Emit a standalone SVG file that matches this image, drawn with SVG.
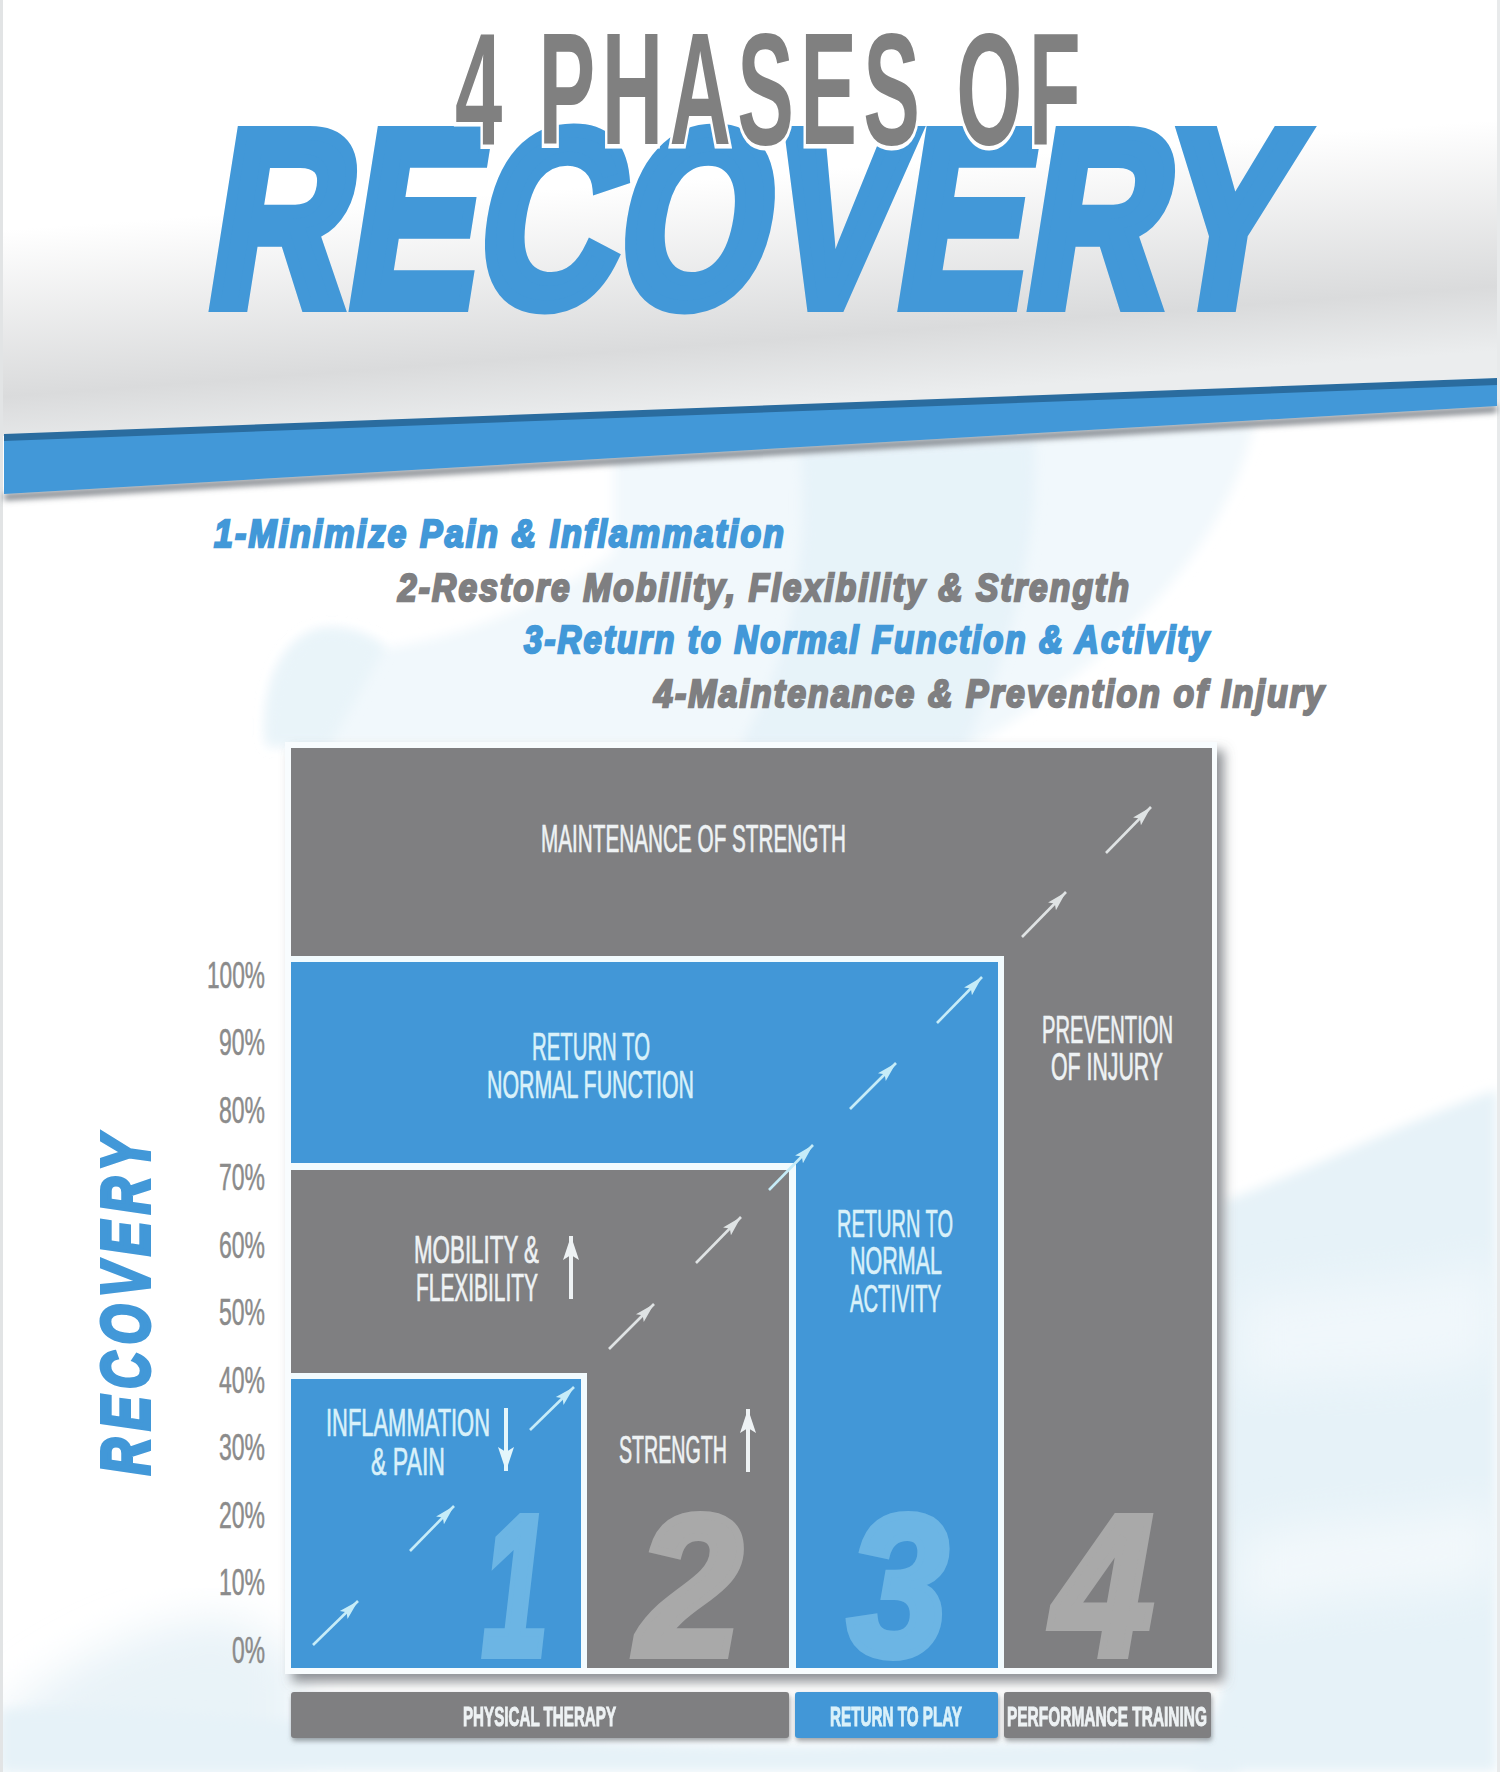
<svg xmlns="http://www.w3.org/2000/svg" width="1500" height="1772" viewBox="0 0 1500 1772">
<style>
text{font-family:"Liberation Sans",Arial,sans-serif}
.lbl{font-size:38px;stroke-width:.7px}
.w{fill:#eef2f4;stroke:#eef2f4}
.c{fill:#d9f1fa;stroke:#d9f1fa}
.bar{font-size:28px;font-weight:bold}
.pct{font-size:36px;fill:#8b8b8b;stroke:#8b8b8b;stroke-width:.5px}
.sub{font-size:39px;font-weight:bold;font-style:italic;stroke-width:2.4px;letter-spacing:2.5px}
.blue{fill:#4298d8;stroke:#4298d8}
.grey{fill:#7f7f81;stroke:#7f7f81}
.num{font-size:200px;font-weight:bold;font-style:italic;stroke-width:8px}
.a{stroke-width:2.6;fill:none}
.ag{stroke:#dfe3e4;marker-end:url(#hg)}
.ab{stroke:#c6ecf8;marker-end:url(#hb)}
.vg{stroke:#eef2f4;stroke-width:4;fill:none;marker-end:url(#vg)}
.vb{stroke:#e4f6fb;stroke-width:4;fill:none;marker-end:url(#vb)}
.pg{fill:#7f7f81}
.pb{fill:#4297d7}
.ln{fill:#f2fbfe}
</style>
<defs>
<marker id="hg" markerUnits="userSpaceOnUse" markerWidth="22" markerHeight="16" refX="20" refY="8" orient="auto"><path d="M0,2.5 L20,8 L0,13.5 L4,8 Z" fill="#dfe3e4"/></marker>
<marker id="hb" markerUnits="userSpaceOnUse" markerWidth="22" markerHeight="16" refX="20" refY="8" orient="auto"><path d="M0,2.5 L20,8 L0,13.5 L4,8 Z" fill="#c6ecf8"/></marker>
<marker id="vg" markerUnits="userSpaceOnUse" markerWidth="26" markerHeight="20" refX="24" refY="10" orient="auto"><path d="M0,2 L24,10 L0,18 L5,10 Z" fill="#eef2f4"/></marker>
<marker id="vb" markerUnits="userSpaceOnUse" markerWidth="26" markerHeight="20" refX="24" refY="10" orient="auto"><path d="M0,2 L24,10 L0,18 L5,10 Z" fill="#e4f6fb"/></marker>
<linearGradient id="sky" gradientUnits="userSpaceOnUse" x1="750" y1="175" x2="767" y2="405">
<stop offset="0" stop-color="#ffffff"/><stop offset=".72" stop-color="#dadbdc"/><stop offset="1" stop-color="#ebedee"/>
</linearGradient>
<filter id="sh" x="-5%" y="-5%" width="112%" height="112%"><feDropShadow dx="7" dy="8" stdDeviation="6" flood-color="#5f6468" flood-opacity=".7"/></filter>
<filter id="bs" x="-5%" y="-30%" width="110%" height="170%"><feDropShadow dx="1" dy="3" stdDeviation="2.5" flood-color="#5f6468" flood-opacity=".6"/></filter>
<filter id="bl" x="-20%" y="-20%" width="140%" height="140%"><feGaussianBlur stdDeviation="6"/></filter>
<filter id="bl2" x="-20%" y="-20%" width="140%" height="140%"><feGaussianBlur stdDeviation="22"/></filter>
<filter id="bl3" x="-5%" y="-50%" width="110%" height="200%"><feGaussianBlur stdDeviation="3"/></filter>
</defs>

<g id="background">
<rect width="1500" height="1772" fill="#ffffff"/>
<path d="M614,440 L1255,420 C1230,540 1130,650 975,745 L267,745 C262,690 280,640 320,630 C350,625 375,640 385,648 C440,640 520,620 614,553 Z" fill="#f1f8fc" filter="url(#bl)"/>
<path d="M800,450 L1035,440 C1040,560 1000,680 965,745 L740,745 C790,660 810,560 800,450Z" fill="#e7f3f9" filter="url(#bl)"/>
<path d="M267,745 C262,690 280,640 320,630 C350,625 375,640 385,648 L330,745Z" fill="#e9f4f9" filter="url(#bl)"/>
<path d="M1225,1201 C1310,1170 1420,1115 1497,1090 L1497,1772 L1190,1772 L1225,1680Z" fill="#e6f2f8" filter="url(#bl)"/>
<path d="M1240,1300 C1330,1280 1420,1290 1497,1260 L1497,1360 C1400,1390 1320,1370 1240,1390Z" fill="#f0f7fb" filter="url(#bl2)"/>
<path d="M1240,1540 C1330,1510 1420,1530 1497,1500 L1497,1580 C1400,1600 1320,1590 1240,1620Z" fill="#f2f8fb" filter="url(#bl2)"/>
<path d="M0,1720 C60,1660 170,1610 240,1620 L300,1660 L300,1772 L0,1772Z" fill="#e9f3f8" filter="url(#bl2)"/>
<path d="M0,1772 L0,1710 C200,1700 400,1745 800,1745 L1240,1740 L1240,1772Z" fill="#e6f2f8" filter="url(#bl)"/>
<rect x="0" y="0" width="3" height="1772" fill="#e2e4e5"/>
<rect x="1497" y="0" width="3" height="1772" fill="#e8eaeb"/>
</g>

<g id="banner">
<path d="M3,436 L1497,378 L1497,0 L3,0Z" fill="url(#sky)"/>
<path d="M4,494 L1497,406 L1497,412 L4,500Z" fill="#6f757c" filter="url(#bl3)"/>
<path d="M4,440 L1497,384 L1497,406 L4,494Z" fill="#4298d8"/>
<path d="M4,434 L1497,378 L1497,385 L4,441Z" fill="#2a6c9f"/>
</g>

<g id="title">
<text transform="translate(202,305) skewX(-9)" font-size="250" font-weight="bold" fill="#4298d8" stroke="#4298d8" stroke-width="14" stroke-linejoin="miter" textLength="1080" lengthAdjust="spacingAndGlyphs">RECOVERY</text>
<text x="455" y="144" font-size="160" font-weight="bold" fill="#808080" stroke="#ffffff" stroke-width="9" paint-order="stroke" letter-spacing="12" textLength="632" lengthAdjust="spacingAndGlyphs">4 PHASES OF</text>
</g>

<g id="phase-list">
<text class="sub blue" x="214" y="547" textLength="572" lengthAdjust="spacingAndGlyphs">1-Minimize Pain &amp; Inflammation</text>
<text class="sub grey" x="398" y="601" textLength="733" lengthAdjust="spacingAndGlyphs">2-Restore Mobility, Flexibility &amp; Strength</text>
<text class="sub blue" x="524" y="653" textLength="687" lengthAdjust="spacingAndGlyphs">3-Return to Normal Function &amp; Activity</text>
<text class="sub grey" x="654" y="707" textLength="672" lengthAdjust="spacingAndGlyphs">4-Maintenance &amp; Prevention of Injury</text>
</g>

<g id="axis">
<text x="149" y="1475" transform="rotate(-90 149 1475)" font-size="68" font-weight="bold" font-style="italic" fill="#4298d8" stroke="#4298d8" stroke-width="4" letter-spacing="10" textLength="346" lengthAdjust="spacingAndGlyphs">RECOVERY</text>
<g class="pct" text-anchor="end">
<text x="265" y="988" textLength="58" lengthAdjust="spacingAndGlyphs">100%</text>
<text x="265" y="1055" textLength="46" lengthAdjust="spacingAndGlyphs">90%</text>
<text x="265" y="1123" textLength="46" lengthAdjust="spacingAndGlyphs">80%</text>
<text x="265" y="1190" textLength="46" lengthAdjust="spacingAndGlyphs">70%</text>
<text x="265" y="1258" textLength="46" lengthAdjust="spacingAndGlyphs">60%</text>
<text x="265" y="1325" textLength="46" lengthAdjust="spacingAndGlyphs">50%</text>
<text x="265" y="1393" textLength="46" lengthAdjust="spacingAndGlyphs">40%</text>
<text x="265" y="1460" textLength="46" lengthAdjust="spacingAndGlyphs">30%</text>
<text x="265" y="1528" textLength="46" lengthAdjust="spacingAndGlyphs">20%</text>
<text x="265" y="1595" textLength="46" lengthAdjust="spacingAndGlyphs">10%</text>
<text x="265" y="1663" textLength="33" lengthAdjust="spacingAndGlyphs">0%</text>
</g>
</g>

<g id="phase-4">
<rect x="285" y="742" width="932" height="932" fill="#f8fcfe" filter="url(#sh)"/>
<rect class="pg" x="291" y="748" width="921" height="920"/>
<text class="lbl w" x="541" y="852" textLength="305" lengthAdjust="spacingAndGlyphs">MAINTENANCE OF STRENGTH</text>
<text class="lbl w" x="1042" y="1043" textLength="131" lengthAdjust="spacingAndGlyphs">PREVENTION</text>
<text class="lbl w" x="1051" y="1080" textLength="112" lengthAdjust="spacingAndGlyphs">OF INJURY</text>
<text class="num" x="1053" y="1655" fill="#a9a9a9" stroke="#a9a9a9" textLength="100" lengthAdjust="spacingAndGlyphs">4</text>
</g>

<g id="phase-3">
<rect class="ln" x="291" y="956" width="713" height="712"/>
<rect class="pb" x="291" y="962" width="707" height="706"/>
<text class="lbl c" x="532" y="1060" textLength="118" lengthAdjust="spacingAndGlyphs">RETURN TO</text>
<text class="lbl c" x="487" y="1098" textLength="207" lengthAdjust="spacingAndGlyphs">NORMAL FUNCTION</text>
<text class="lbl c" x="837" y="1237" textLength="116" lengthAdjust="spacingAndGlyphs">RETURN TO</text>
<text class="lbl c" x="850" y="1274" textLength="92" lengthAdjust="spacingAndGlyphs">NORMAL</text>
<text class="lbl c" x="850" y="1312" textLength="91" lengthAdjust="spacingAndGlyphs">ACTIVITY</text>
<text class="num" x="848" y="1655" fill="#6cb5e4" stroke="#6cb5e4" textLength="100" lengthAdjust="spacingAndGlyphs">3</text>
</g>

<g id="phase-2">
<rect class="ln" x="291" y="1163" width="505" height="505"/>
<rect class="pg" x="291" y="1170" width="498" height="498"/>
<text class="lbl w" x="414" y="1263" textLength="125" lengthAdjust="spacingAndGlyphs">MOBILITY &amp;</text>
<text class="lbl w" x="416" y="1301" textLength="122" lengthAdjust="spacingAndGlyphs">FLEXIBILITY</text>
<text class="lbl w" x="619" y="1463" textLength="108" lengthAdjust="spacingAndGlyphs">STRENGTH</text>
<text class="num" x="637" y="1655" fill="#a9a9a9" stroke="#a9a9a9" textLength="105" lengthAdjust="spacingAndGlyphs">2</text>
</g>

<g id="phase-1">
<rect class="ln" x="291" y="1373" width="296" height="295"/>
<rect class="pb" x="291" y="1379" width="290" height="289"/>
<text class="lbl c" x="326" y="1436" textLength="164" lengthAdjust="spacingAndGlyphs">INFLAMMATION</text>
<text class="lbl c" x="371" y="1475" textLength="74" lengthAdjust="spacingAndGlyphs">&amp; PAIN</text>
<text class="num" x="482" y="1655" fill="#6cb5e4" stroke="#6cb5e4" textLength="66" lengthAdjust="spacingAndGlyphs">1</text>
</g>

<g id="connectors">
<path class="a ab" d="M313,1645 L358,1601"/>
<path class="a ab" d="M410,1551 L454,1506"/>
<path class="a ab" d="M530,1430 L574,1387"/>
<path class="a ag" d="M609,1349 L654,1304"/>
<path class="a ag" d="M696,1263 L741,1217"/>
<path class="a ab" d="M769,1190 L813,1145"/>
<path class="a ab" d="M850,1109 L896,1063"/>
<path class="a ab" d="M937,1023 L982,977"/>
<path class="a ag" d="M1022,937 L1066,892"/>
<path class="a ag" d="M1106,853 L1151,807"/>
<path class="vg" d="M571,1299 L571,1236"/>
<path class="vb" d="M506,1408 L506,1471"/>
<path class="vg" d="M748,1472 L748,1409"/>
</g>

<g id="bar-physical-therapy" filter="url(#bs)">
<rect class="pg" x="291" y="1692" width="498" height="46" rx="3"/>
<text class="bar w" x="463" y="1726" textLength="153" lengthAdjust="spacingAndGlyphs">PHYSICAL THERAPY</text>
</g>
<g id="bar-return-to-play" filter="url(#bs)">
<rect class="pb" x="795" y="1692" width="203" height="46" rx="3"/>
<text class="bar c" x="830" y="1726" textLength="132" lengthAdjust="spacingAndGlyphs">RETURN TO PLAY</text>
</g>
<g id="bar-performance-training" filter="url(#bs)">
<rect class="pg" x="1004" y="1692" width="207" height="46" rx="3"/>
<text class="bar w" x="1007" y="1726" textLength="200" lengthAdjust="spacingAndGlyphs">PERFORMANCE TRAINING</text>
</g>
</svg>
